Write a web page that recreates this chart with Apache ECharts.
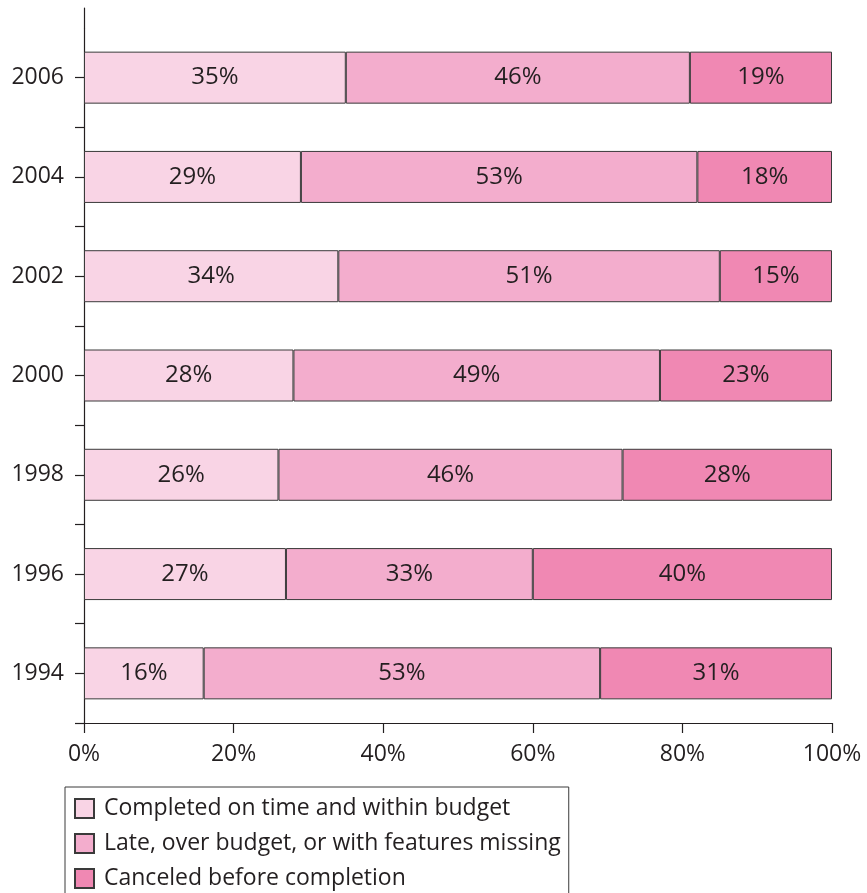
<!DOCTYPE html>
<html>
<head>
<meta charset="utf-8">
<script src="https://cdn.jsdelivr.net/npm/echarts@6/dist/echarts.min.js"></script>
<style>html,body{margin:0;padding:0;background:#fff;}#c{width:867px;height:893px;}</style>
</head>
<body>
<div id="c"></div>
<script>
const years = ['2006', '2004', '2002', '2000', '1998', '1996', '1994'];
const completed = [35, 29, 34, 28, 26, 27, 16];
const late = [46, 53, 51, 49, 46, 33, 53];
const canceled = [19, 18, 15, 23, 28, 40, 31];
const seriesNames = ['Completed on time and within budget', 'Late, over budget, or with features missing', 'Canceled before completion'];
const xTicks = [0, 20, 40, 60, 80, 100];

const FONT = '"Open Sans", "Noto Sans", sans-serif';
const INK = '#231f20';
const colors = ['#f9d4e5', '#f3adcd', '#f088b3'];

const chart = echarts.init(document.getElementById('c'), null, {renderer: 'canvas'});
function bar(name, data, color) {
  return {
    name: name, type: 'bar', stack: 'all', data: data, barWidth: 52,
    xAxisIndex: 0, yAxisIndex: 0,
    itemStyle: {color: color, borderColor: '#3a3a3a', borderWidth: 1},
    label: {show: true, position: 'inside', formatter: '{c}%', color: INK, fontFamily: FONT, fontSize: 24},
    emphasis: {disabled: true}
  };
}
chart.setOption({
  animation: false,
  textStyle: {fontFamily: FONT},
  grid: [
    {left: 84, right: 35, top: 28, bottom: 170, containLabel: false},
    {left: 84, right: 35, top: 8, height: 20, containLabel: false}
  ],
  xAxis: [
    {type: 'value', gridIndex: 0, min: xTicks[0], max: xTicks[xTicks.length - 1], interval: 20,
     axisLine: {show: true, lineStyle: {color: INK, width: 1.2}},
     axisTick: {show: true, length: 10, lineStyle: {color: INK, width: 1.2}},
     axisLabel: {formatter: '{value}%', color: INK, fontFamily: FONT, fontSize: 23, margin: 20},
     splitLine: {show: false}},
    {type: 'value', gridIndex: 1, show: false}
  ],
  yAxis: [
    {type: 'category', gridIndex: 0, data: years, inverse: true, position: 'left',
     axisLine: {show: true, lineStyle: {color: INK, width: 1.2}},
     axisTick: {show: true, length: 9, interval: function (i) { return i !== 0; }, lineStyle: {color: INK, width: 1.2}},
     axisLabel: {color: INK, fontFamily: FONT, fontSize: 23, margin: 20}},
    {type: 'category', gridIndex: 0, data: years, inverse: true, position: 'left',
     axisLine: {show: false},
     axisTick: {show: true, length: 9, alignWithLabel: true, lineStyle: {color: INK, width: 1.2}},
     axisLabel: {show: false}},
    {type: 'value', gridIndex: 1, position: 'left',
     axisLine: {show: true, lineStyle: {color: INK, width: 1.2}},
     axisTick: {show: false}, axisLabel: {show: false}, splitLine: {show: false}}
  ],
  legend: {
    orient: 'vertical', left: 65, top: 787, height: 140,
    padding: [10, 8, 12, 9], itemGap: 12,
    itemWidth: 29, itemHeight: 19,
    icon: 'path://M0,0H10V10H0Z',
    borderColor: '#3a3a3a', borderWidth: 1,
    textStyle: {color: INK, fontFamily: FONT, fontSize: 23, lineHeight: 23},
    selectedMode: false,
    data: seriesNames
  },
  series: [
    bar(seriesNames[0], completed, colors[0]),
    bar(seriesNames[1], late, colors[1]),
    bar(seriesNames[2], canceled, colors[2])
  ]
});
</script>
</body>
</html>
